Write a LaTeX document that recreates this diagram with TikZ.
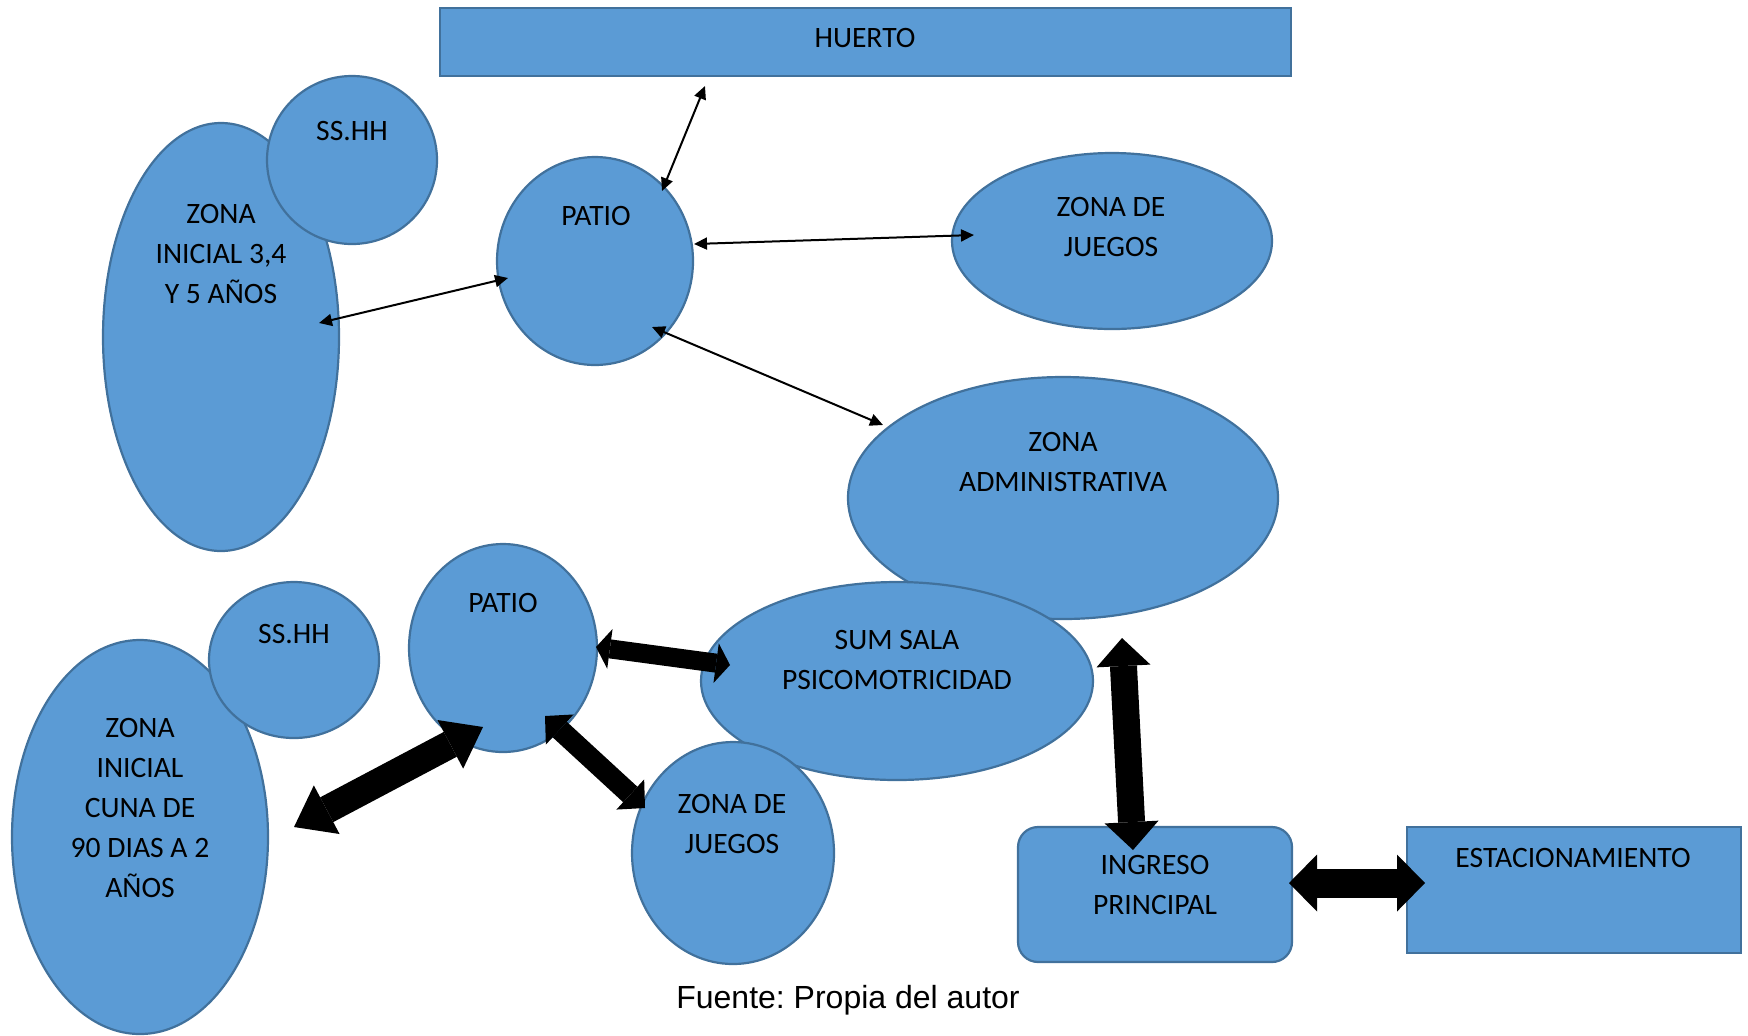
\documentclass[tikz,border=0pt]{standalone}
\usepackage{fontspec}
\setmainfont{Carlito}
\newfontfamily\capfont{Liberation Sans}
\usetikzlibrary{shapes.geometric,arrows.meta}
\definecolor{zfill}{HTML}{5B9BD5}
\definecolor{zline}{HTML}{41719C}
\frenchspacing
\begin{document}
\begin{tikzpicture}[x=0.5pt,y=-0.5pt,
  zone/.style={draw=zline, fill=zfill, line width=1.1pt, inner sep=0pt, outer sep=0pt},
  ell/.style 2 args={zone, ellipse, minimum width=#1pt, minimum height=#2pt},
  box/.style 2 args={zone, rectangle, minimum width=#1pt, minimum height=#2pt},
  lbl/.style={font=\fontsize{14.8}{20}\selectfont, align=center, inner sep=0pt, text=black},
  link/.style={line width=1pt, {Triangle[width=6pt,length=6.5pt]}-{Triangle[width=6pt,length=6.5pt]}},
  bigarrow/.style n args={3}{line width=#1pt, {Triangle[width=#2pt,length=#3pt,line width=0pt]}-{Triangle[width=#2pt,length=#3pt,line width=0pt]}}
]
\useasboundingbox (0,0) rectangle (1748,1035);
% shapes
\node[ell={118}{214}] (ini) at (221,337) {};
\node[ell={85}{84}] (sshh1) at (352,160) {};
\node[box={425.5}{34}] (huerto) at (865.5,42) {};
\node[ell={98}{104}] (patio1) at (595,261) {};
\node[ell={160}{88}] (jue1) at (1112,241) {};
\node[ell={215}{121}] (admin) at (1063,498) {};
\node[ell={196}{99}] (sum) at (897,681) {};
\node[ell={101}{111}] (jue2) at (733,853) {};
\node[ell={94}{104}] (patio2) at (503,648) {};
\node[ell={128}{197}] (cuna) at (140,837) {};
\node[ell={85}{78}] (sshh2) at (294,660) {};
\node[box={137}{67.5}, rounded corners=10pt] (ingreso) at (1155,894.5) {};
\node[box={167}{63}] (estac) at (1574,890) {};
% labels
\node[lbl] (t-huerto) at (865,38) {HUERTO};
\node[lbl] (t-sshh1) at (352,131) {SS.HH};
\node[lbl] (t-ini) at (221,254) {ZONA\\INICIAL 3,4\\Y 5 AÑOS};
\node[lbl] (t-patio1) at (596,216) {PATIO};
\node[lbl] (t-jue1) at (1111,227) {ZONA DE\\JUEGOS};
\node[lbl] (t-admin) at (1063,461.5) {ZONA\\ADMINISTRATIVA};
\node[lbl] (t-sum) at (897,660) {SUM SALA\\PSICOMOTRICIDAD};
\node[lbl] (t-patio2) at (503,603) {PATIO};
\node[lbl] (t-sshh2) at (294,634) {SS.HH};
\node[lbl] (t-cuna) at (140,807.5) {ZONA\\INICIAL\\CUNA DE\\90 DIAS A 2\\AÑOS};
\node[lbl] (t-jue2) at (732,824) {ZONA DE\\JUEGOS};
\node[lbl] (t-ingreso) at (1155,884.5) {INGRESO\\PRINCIPAL};
\node[lbl] (t-estac) at (1573,858) {ESTACIONAMIENTO};
\node[font=\capfont\fontsize{16}{18}\selectfont, anchor=base, inner sep=0pt] (src) at (848,1008) {Fuente: Propia del autor};
% connector end points
\coordinate (p1-h) at (662,191);
\coordinate (h-end) at (705,86);
\coordinate (p1-j) at (694,244);
\coordinate (j1-end) at (974,235);
\coordinate (p1-i) at (508,278);
\coordinate (i-end) at (319,323);
\coordinate (p1-a) at (652,327);
\coordinate (a-end) at (883,425);
\coordinate (p2-s) at (596,647);
\coordinate (s-end) at (730,665);
\coordinate (p2-c) at (483,727);
\coordinate (c-end) at (294,827);
\coordinate (p2-j) at (545,716);
\coordinate (j2-end) at (645,808);
\coordinate (s-top) at (1122,638);
\coordinate (ing-top) at (1133,850);
\coordinate (ing-r) at (1289,883);
\coordinate (est-l) at (1425,883);
% connectors
\draw[link] (p1-h) -- (h-end);
\draw[link] (p1-j) -- (j1-end);
\draw[link] (p1-i) -- (i-end);
\draw[link] (p1-a) -- (a-end);
\draw[bigarrow={9.5}{20}{7}] (p2-s) -- (s-end);
\draw[bigarrow={14}{27.5}{18.5}] (p2-c) -- (c-end);
\draw[bigarrow={10.5}{20.5}{10}] (p2-j) -- (j2-end);
\draw[bigarrow={13.5}{27}{14}] (s-top) -- (ing-top);
\draw[bigarrow={14.5}{28.5}{14}] (ing-r) -- (est-l);
\end{tikzpicture}
\end{document}
